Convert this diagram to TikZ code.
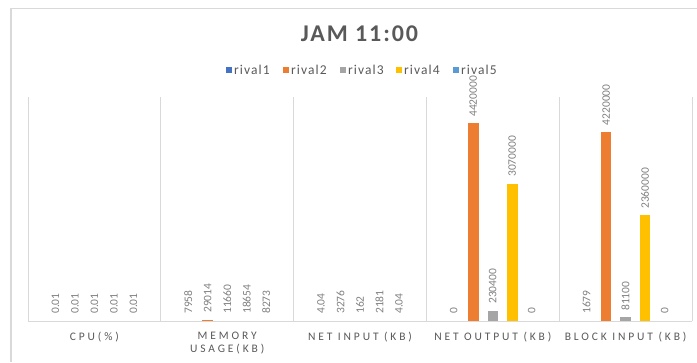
\documentclass[tikz,border=0pt]{standalone}
\usepackage{fontspec}
\setmainfont{Carlito}
\newfontfamily\titlefont[LetterSpace=8]{Carlito}
\newfontfamily\axisfont[LetterSpace=25]{Carlito}
\newfontfamily\legendfont[LetterSpace=8]{Carlito}
\newlength{\du}
\setlength{\du}{1pt}
\definecolor{rivalone}{HTML}{4472C4}
\definecolor{rivaltwo}{HTML}{ED7D31}
\definecolor{rivalthree}{HTML}{A5A5A5}
\definecolor{rivalfour}{HTML}{FFC000}
\definecolor{rivalfive}{HTML}{5B9BD5}
\definecolor{textgrey}{HTML}{595959}
\definecolor{labelgrey}{HTML}{808080}
\definecolor{gridgrey}{HTML}{D9D9D9}
\tikzset{
  datalabel/.style={rotate=90, anchor=west, inner sep=1pt, text=labelgrey, font=\fontsize{11.5}{13}\selectfont},
  catlabel/.style={text=textgrey, align=center, inner sep=0pt, font=\axisfont\fontsize{11.5}{12.5}\selectfont},
  legendkey/.style={minimum size=6\du, inner sep=0pt},
  legendtext/.style={anchor=west, inner sep=0pt, text=textgrey, font=\legendfont\fontsize{13.5}{15}\selectfont},
  gridline/.style={draw=gridgrey, line width=1\du}
}

\begin{document}
\begin{tikzpicture}
\pgftransformxscale{1.000000}
\pgftransformyscale{-1.000000}
\useasboundingbox (0\du,0\du) rectangle (697\du,362\du);
% frame of the chart area
\draw[draw=gridgrey, line width=1.5\du] (11\du,362\du)--(11\du,8.5\du)--(697\du,8.5\du);
% title
\node[text=textgrey, inner sep=0pt, font=\titlefont\bfseries\fontsize{24}{27}\selectfont] (title) at (359.5\du,34\du){JAM 11:00};
% legend
\node[legendkey, fill=rivalone] (keyone) at (229\du,70\du){};
\node[legendtext] (legone) at (234\du,70\du){rival1};
\node[legendkey, fill=rivaltwo] (keytwo) at (286\du,70\du){};
\node[legendtext] (legtwo) at (291\du,70\du){rival2};
\node[legendkey, fill=rivalthree] (keythree) at (343\du,70\du){};
\node[legendtext] (legthree) at (348\du,70\du){rival3};
\node[legendkey, fill=rivalfour] (keyfour) at (399\du,70\du){};
\node[legendtext] (legfour) at (404\du,70\du){rival4};
\node[legendkey, fill=rivalfive] (keyfive) at (456\du,70\du){};
\node[legendtext] (legfive) at (461\du,70\du){rival5};
% category separators and axis
\draw[gridline] (28\du,97\du)--(28\du,321\du);
\draw[gridline] (160.8\du,97\du)--(160.8\du,321\du);
\draw[gridline] (293.6\du,97\du)--(293.6\du,321\du);
\draw[gridline] (426.4\du,97\du)--(426.4\du,321\du);
\draw[gridline] (559.2\du,97\du)--(559.2\du,321\du);
\draw[gridline] (692\du,97\du)--(692\du,321\du);
\draw[gridline] (28\du,321\du)--(692\du,321\du);
% bars
\fill[rivaltwo] (202.45\du,319.7\du) rectangle (212.95\du,320.5\du);
\fill[rivaltwo] (468.05\du,123.0\du) rectangle (478.55\du,320.5\du);
\fill[rivalthree] (487.55\du,310.7\du) rectangle (498.05\du,320.5\du);
\fill[rivalfour] (507.05\du,183.5\du) rectangle (517.55\du,320.5\du);
\fill[rivaltwo] (600.85\du,131.9\du) rectangle (611.35\du,320.5\du);
\fill[rivalthree] (620.35\du,317.4\du) rectangle (630.85\du,320.5\du);
\fill[rivalfour] (639.85\du,215.3\du) rectangle (650.35\du,320.5\du);
% data labels: CPU
\node[datalabel] (cpuone) at (55.4\du,315\du){0.01};
\node[datalabel] (cputwo) at (74.9\du,315\du){0.01};
\node[datalabel] (cputhree) at (94.4\du,315\du){0.01};
\node[datalabel] (cpufour) at (113.9\du,315\du){0.01};
\node[datalabel] (cpufive) at (133.4\du,315\du){0.01};
% data labels: memory usage
\node[datalabel] (memone) at (188.2\du,315\du){7958};
\node[datalabel] (memtwo) at (207.7\du,314\du){29014};
\node[datalabel] (memthree) at (227.2\du,315\du){11660};
\node[datalabel] (memfour) at (246.7\du,315\du){18654};
\node[datalabel] (memfive) at (266.2\du,315\du){8273};
% data labels: net input
\node[datalabel] (inone) at (321\du,315\du){4.04};
\node[datalabel] (intwo) at (340.5\du,315\du){3276};
\node[datalabel] (inthree) at (360\du,315\du){162};
\node[datalabel] (infour) at (379.5\du,315\du){2181};
\node[datalabel] (infive) at (399\du,315\du){4.04};
% data labels: net output
\node[datalabel] (outone) at (453.8\du,315\du){0};
\node[datalabel] (outtwo) at (473.3\du,118\du){4420000};
\node[datalabel] (outthree) at (492.8\du,305\du){230400};
\node[datalabel] (outfour) at (512.3\du,178\du){3070000};
\node[datalabel] (outfive) at (531.8\du,315\du){0};
% data labels: block input
\node[datalabel] (blkone) at (586.6\du,315\du){1679};
\node[datalabel] (blktwo) at (606.1\du,126.5\du){4220000};
\node[datalabel] (blkthree) at (625.6\du,312\du){81100};
\node[datalabel] (blkfour) at (645.1\du,210\du){2360000};
\node[datalabel] (blkfive) at (664.6\du,315\du){0};
% category labels
\node[catlabel] (catcpu) at (94.4\du,337\du){CPU(\%)};
\node[catlabel] (catmem) at (227.2\du,343\du){MEMORY\\USAGE(KB)};
\node[catlabel] (catin) at (360\du,337\du){NET INPUT (KB)};
\node[catlabel] (catout) at (492.8\du,337\du){NET OUTPUT (KB)};
\node[catlabel] (catblk) at (625.6\du,337\du){BLOCK INPUT (KB)};
\end{tikzpicture}
\end{document}
